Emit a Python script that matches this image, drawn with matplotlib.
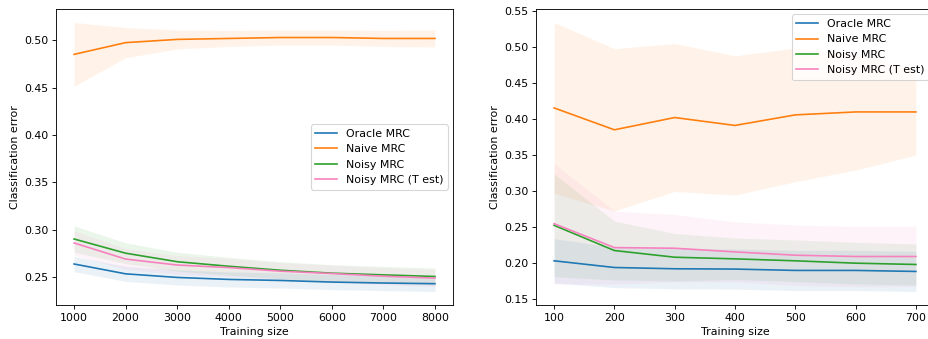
import matplotlib
matplotlib.use("Agg")
import matplotlib.pyplot as plt
import numpy as np

labels = ["Oracle MRC", "Naive MRC", "Noisy MRC", "Noisy MRC (T est)"]
colors = ["#1f77b4", "#ff7f0e", "#2ca02c", "#f781bf"]

# Left panel
sizes_left = [1000, 2000, 3000, 4000, 5000, 6000, 7000, 8000]
oracle_left = [0.2639, 0.2535, 0.2497, 0.2476, 0.2465, 0.2448, 0.2438, 0.2431]
naive_left = [0.4852, 0.4976, 0.5010, 0.5020, 0.5030, 0.5030, 0.5020, 0.5020]
noisy_left = [0.2903, 0.2753, 0.2663, 0.2615, 0.2573, 0.2542, 0.2524, 0.2507]
noisyT_left = [0.2861, 0.2691, 0.2628, 0.2601, 0.2563, 0.2538, 0.2510, 0.2490]
oracle_left_sd = [0.008, 0.008, 0.008, 0.008, 0.008, 0.008, 0.008, 0.0083]
naive_left_sd = [0.0337, 0.016, 0.010, 0.0085, 0.008, 0.008, 0.0085, 0.009]
noisy_left_sd = [0.014, 0.011, 0.010, 0.0095, 0.009, 0.009, 0.009, 0.009]
noisyT_left_sd = [0.013, 0.011, 0.010, 0.0095, 0.009, 0.009, 0.009, 0.009]

# Right panel
sizes_right = [100, 200, 300, 400, 500, 600, 700]
oracle_right = [0.2027, 0.1934, 0.1916, 0.1912, 0.1893, 0.1893, 0.1879]
naive_right = [0.4156, 0.3851, 0.4022, 0.3912, 0.4059, 0.4100, 0.4100]
noisy_right = [0.2521, 0.2170, 0.2077, 0.2054, 0.2027, 0.1994, 0.1976]
noisyT_right = [0.2544, 0.2211, 0.2202, 0.2151, 0.2105, 0.2087, 0.2087]
oracle_right_sd = [0.031, 0.028, 0.028, 0.028, 0.028, 0.028, 0.028]
naive_right_sd = [0.119, 0.113, 0.103, 0.097, 0.093, 0.081, 0.060]
noisy_right_sd = [0.0716, 0.041, 0.033, 0.029, 0.029, 0.029, 0.0285]
noisyT_right_sd = [0.084, 0.051, 0.047, 0.042, 0.042, 0.042, 0.042]

dpi = 79
fig = plt.figure(figsize=(928 / dpi, 339 / dpi), dpi=dpi)
ax1 = fig.add_axes([56 / 928, 1 - 305 / 339, (453 - 56) / 928, (305 - 9) / 339])
ax2 = fig.add_axes([536 / 928, 1 - 305 / 339, (934 - 536) / 928, (305 - 9) / 339])


def draw(ax, x, means, sds, loc):
    x = np.array(x)
    for m, s, c, lab in zip(means, sds, colors, labels):
        m = np.array(m)
        s = np.array(s)
        ax.plot(x, m, color=c, label=lab, lw=1.5)
        ax.fill_between(x, m - s, m + s, color=c, alpha=0.09, lw=0)
    ax.set_xlabel("Training size")
    ax.set_ylabel("Classification error")
    ax.legend(loc=loc)


draw(ax1, sizes_left, [oracle_left, naive_left, noisy_left, noisyT_left],
     [oracle_left_sd, naive_left_sd, noisy_left_sd, noisyT_left_sd], "center right")
draw(ax2, sizes_right, [oracle_right, naive_right, noisy_right, noisyT_right],
     [oracle_right_sd, naive_right_sd, noisy_right_sd, noisyT_right_sd], "upper right")

fig.savefig("out.png", dpi=dpi)
